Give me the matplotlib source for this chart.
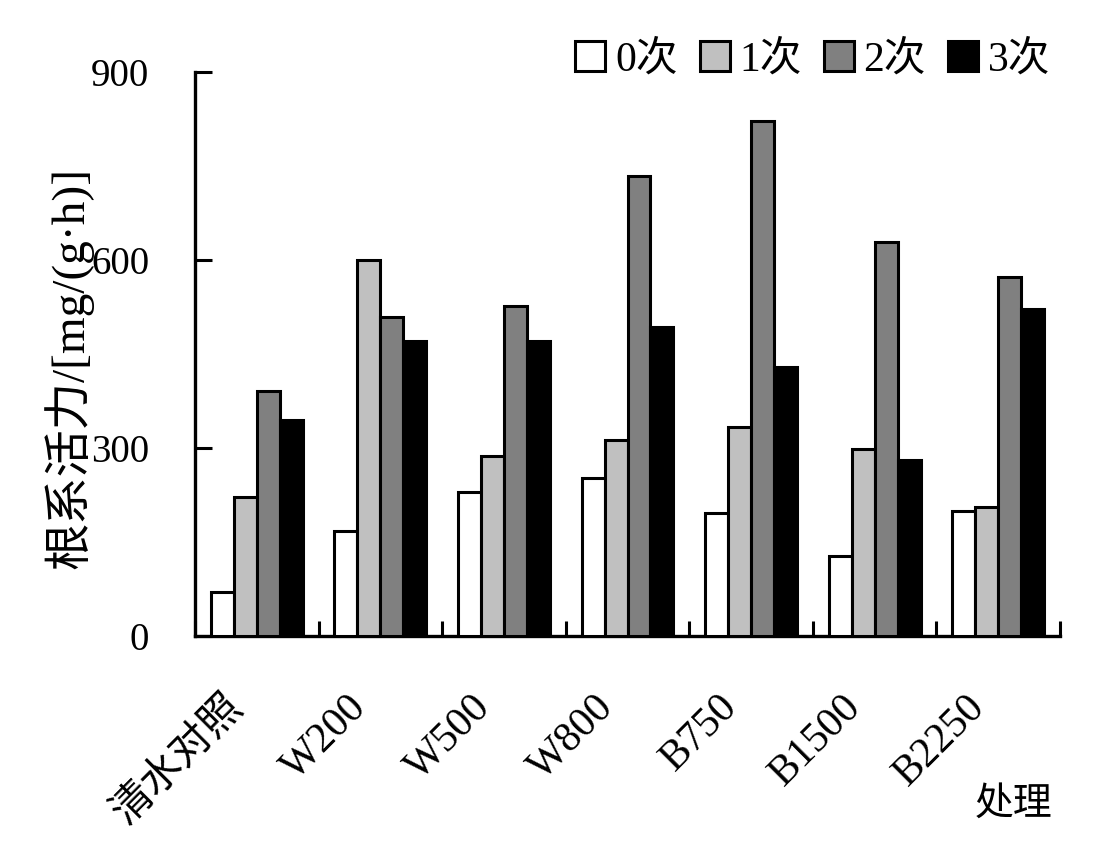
import matplotlib as mpl
mpl.use("Agg")
import matplotlib.pyplot as plt
import matplotlib.transforms as mtransforms
import numpy as np

plt.rcParams['font.family'] = ['Liberation Serif', 'Noto Sans CJK SC']

treatments = ['清水对照', 'W200', 'W500', 'W800', 'B750', 'B1500', 'B2250']
series_names = ['0次', '1次', '2次', '3次']
times0 = [70, 168, 230, 252, 196, 128, 200]
times1 = [222, 600, 287, 313, 333, 298, 206]
times2 = [391, 509, 527, 734, 822, 629, 573]
times3 = [345, 471, 471, 493, 429, 281, 522]
colors = ['white', '#c0c0c0', '#808080', 'black']

fig = plt.figure(figsize=(11.04, 8.48), dpi=100)
ax = fig.add_axes([195/1104, 1 - 636/848, 865/1104, 564/848])

x = np.arange(len(treatments)) + 0.5
w = 0.186
for k, vals in enumerate([times0, times1, times2, times3]):
    ax.bar(x + (k - 1.5) * w, vals, w, color=colors[k], edgecolor='black',
           linewidth=2.2, label=series_names[k], zorder=3)

ax.set_xlim(0, 7)
ax.set_ylim(0, 900)
ax.set_yticks([0, 300, 600, 900])
ax.set_xticks(x)
ax.set_xticklabels(treatments, rotation=45, ha='right', va='top')
ax.set_xticks(np.arange(0, 8), minor=True)

ax.tick_params(axis='x', which='major', length=0, pad=37, labelsize=30)
ax.tick_params(axis='x', which='minor', direction='in', length=10.5, width=2.2)
ax.tick_params(axis='y', direction='in', length=12, width=2.2, pad=33, labelsize=28)

# shift the slanted names a bit left of the group centres
offset = mtransforms.ScaledTranslation(-6/100, 0, fig.dpi_scale_trans)
for lab in ax.get_xticklabels():
    lab.set_transform(lab.get_transform() + offset)

for s in ['top', 'right']:
    ax.spines[s].set_visible(False)
for s in ['left', 'bottom']:
    ax.spines[s].set_linewidth(2.4)

ax.set_ylabel('根系活力/[mg/(g·h)]', fontsize=34)
ax.yaxis.set_label_coords(-0.118, 0.475)

fig.text(1014/1104, 1 - 805/848, '处理', fontsize=28, ha='center', va='center')

ax.legend(loc='center right', bbox_to_anchor=(1050/1104, 1 - 60/848),
          bbox_transform=fig.transFigure, ncol=4, frameon=False, fontsize=30,
          handlelength=0.72, handleheight=0.72, handletextpad=0.24,
          columnspacing=0.52, borderpad=0, borderaxespad=0)

fig.savefig('out.png', dpi=100)
